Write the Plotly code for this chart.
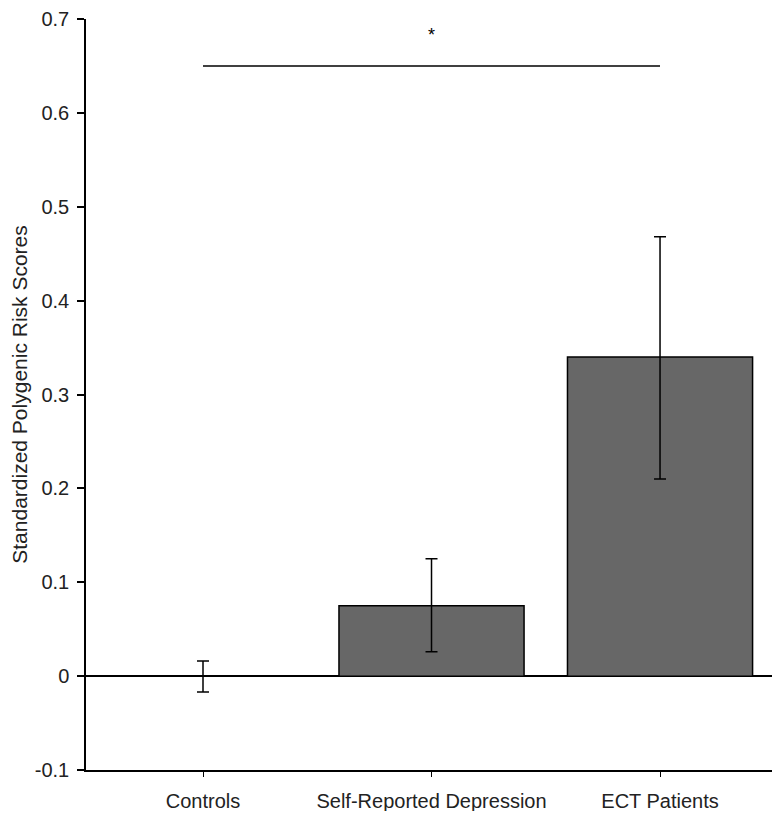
import plotly.graph_objects as go

categories = ["Controls", "Self-Reported Depression", "ECT Patients"]
means = [0.0, 0.075, 0.340]
err_upper = [0.016, 0.125, 0.468]
err_lower = [-0.017, 0.026, 0.210]
y_ticks = [-0.1, 0.0, 0.1, 0.2, 0.3, 0.4, 0.5, 0.6, 0.7]
y_tick_labels = ["-0.1", "0", "0.1", "0.2", "0.3", "0.4", "0.5", "0.6", "0.7"]
sig_y = 0.65
sig_label = "*"

plus = [u - m for u, m in zip(err_upper, means)]
minus = [m - l for m, l in zip(means, err_lower)]

fig = go.Figure()
fig.add_trace(go.Bar(
    x=[0, 1, 2], y=means, width=0.81,
    marker=dict(color="#676767", line=dict(color="black", width=1.5)),
    error_y=dict(type="data", symmetric=False, array=plus, arrayminus=minus,
                 color="black", thickness=1.5, width=6),
    showlegend=False,
))

fig.add_shape(type="line", x0=0, x1=2, y0=sig_y, y1=sig_y,
              xref="x", yref="y", line=dict(color="black", width=1.5))
fig.add_annotation(x=1, y=sig_y + 0.033, xref="x", yref="y", text=sig_label,
                   showarrow=False, font=dict(size=18, color="black"))

font_family = "Liberation Sans, Arial, sans-serif"
# page body has an 8px margin; figure sized/margined to compensate
fig.update_layout(
    width=764, height=803,
    margin=dict(l=78, r=0, t=11, b=41),
    plot_bgcolor="white", paper_bgcolor="white",
    font=dict(family=font_family, color="#222222", size=20),
)
fig.update_xaxes(
    range=[-0.512, 2.49], tickvals=[0, 1, 2], ticktext=categories,
    showline=True, linecolor="black", linewidth=1.5,
    ticks="outside", ticklen=5, tickwidth=1, tickcolor="black",
    showgrid=False, zeroline=False, tickfont=dict(size=20), automargin=False,
    ticklabelstandoff=7, ticklabeloverflow="allow",
)
fig.update_yaxes(
    range=[-0.1, 0.7], tickvals=y_ticks, ticktext=y_tick_labels,
    showline=True, linecolor="black", linewidth=1.5,
    ticks="outside", ticklen=7, tickwidth=1.5, tickcolor="black",
    showgrid=False, zeroline=True, zerolinecolor="black", zerolinewidth=1.5,
    title=dict(text="Standardized Polygenic Risk Scores", font=dict(size=21), standoff=8),
    tickfont=dict(size=20), automargin=False, ticklabelstandoff=4,
    ticklabeloverflow="allow",
)

fig.write_html("out.html")
